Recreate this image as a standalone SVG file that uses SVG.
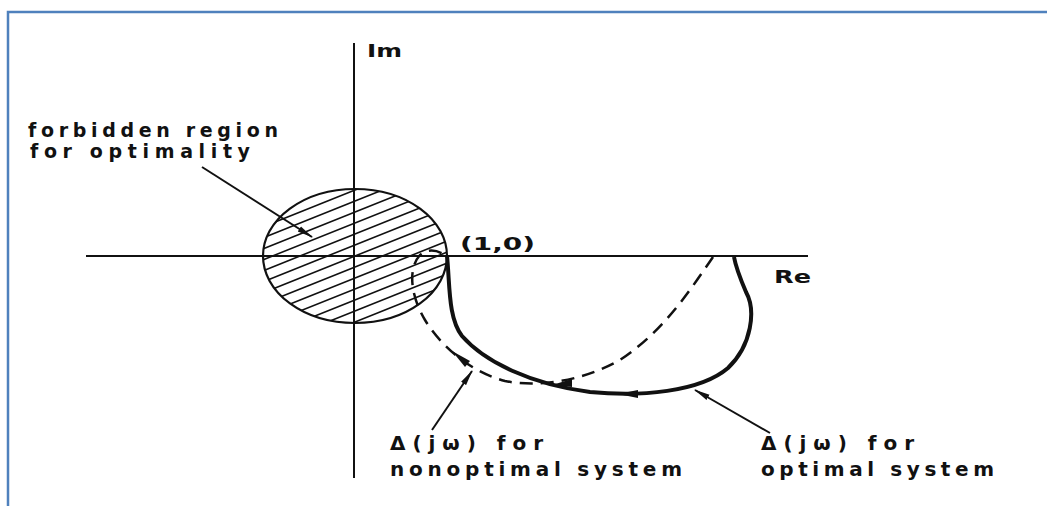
<svg xmlns="http://www.w3.org/2000/svg" width="1047" height="506" viewBox="0 0 1047 506">
  <style>
    .lbl { font-family: "DejaVu Sans", "Liberation Sans", sans-serif; font-weight: bold; fill: #111; }
    .axis { stroke: #111; stroke-width: 2; fill: none; }
    .ptr { stroke: #111; stroke-width: 2; fill: none; }
  </style>
  <defs>
    <clipPath id="circClip">
      <ellipse cx="355" cy="256" rx="92" ry="67"/>
    </clipPath>
    <marker id="ah" markerUnits="userSpaceOnUse" markerWidth="16" markerHeight="8" refX="15" refY="4" orient="auto">
      <path d="M0,1 L16,4 L0,7 z" fill="#111"/>
    </marker>
  </defs>
  <rect width="1047" height="506" fill="#fff"/>
  <g id="border" fill="none" stroke="#4f81bd" stroke-width="2.5">
    <path d="M8,506 L8,12 L1047,12"/>
  </g>
  <g id="axes">
    <line class="axis" x1="354" y1="43" x2="354" y2="478"/>
    <line class="axis" x1="86" y1="256" x2="808" y2="256"/>
    <text class="lbl" x="367" y="57" font-size="18" textLength="35" lengthAdjust="spacingAndGlyphs">Im</text>
    <text class="lbl" x="774" y="283" font-size="18" textLength="37" lengthAdjust="spacingAndGlyphs">Re</text>
    <text class="lbl" x="460" y="250" font-size="18" textLength="75" lengthAdjust="spacingAndGlyphs">(1,0)</text>
  </g>
  <g id="forbidden-region">
    <g clip-path="url(#circClip)" stroke="#111" stroke-width="1.6">
      <line x1="240" y1="236" x2="470" y2="144"/>
      <line x1="240" y1="247" x2="470" y2="155"/>
      <line x1="240" y1="258" x2="470" y2="166"/>
      <line x1="240" y1="269" x2="470" y2="177"/>
      <line x1="240" y1="280" x2="470" y2="188"/>
      <line x1="240" y1="291" x2="470" y2="199"/>
      <line x1="240" y1="302" x2="470" y2="210"/>
      <line x1="240" y1="313" x2="470" y2="221"/>
      <line x1="240" y1="324" x2="470" y2="232"/>
      <line x1="240" y1="335" x2="470" y2="243"/>
      <line x1="240" y1="346" x2="470" y2="254"/>
      <line x1="240" y1="357" x2="470" y2="265"/>
      <line x1="240" y1="368" x2="470" y2="276"/>
      <line x1="240" y1="379" x2="470" y2="287"/>
      <line x1="240" y1="390" x2="470" y2="298"/>
      <line x1="240" y1="401" x2="470" y2="309"/>
      <line x1="240" y1="412" x2="470" y2="320"/>
      <line x1="240" y1="423" x2="470" y2="331"/>
      <line x1="240" y1="434" x2="470" y2="342"/>
    </g>
    <ellipse cx="355" cy="256" rx="92" ry="67" fill="none" stroke="#111" stroke-width="2.2"/>
    <text class="lbl" x="28" y="137" font-size="19" textLength="250" lengthAdjust="spacing">forbidden region</text>
    <text class="lbl" x="30" y="158" font-size="19" textLength="220" lengthAdjust="spacing">for optimality</text>
  </g>
  <g id="optimal-curve">
    <path d="M447,256 C450,285 448,318 462,336 C485,362 530,384 590,392 C640,397 700,392 728,368 C752,345 756,310 746,292 C740,278 736,268 734,257" fill="none" stroke="#111" stroke-width="4"/>
    <path d="M618,394 L638,390 L638,398 z" fill="#111"/>
    <text class="lbl" x="761" y="450" font-size="20" textLength="153" lengthAdjust="spacing">Δ(jω) for</text>
    <text class="lbl" x="761" y="476" font-size="20" textLength="233" lengthAdjust="spacing">optimal system</text>
  </g>
  <g id="nonoptimal-curve">
    <path d="M713,257 C690,290 665,330 620,360 C585,380 540,388 505,381 C470,372 440,345 425,320 C410,295 408,268 420,255 C428,248 438,250 446,256" fill="none" stroke="#111" stroke-width="2.5" stroke-dasharray="13,8"/>
    <path d="M552,385 L572,379 L572,387 z" fill="#111"/>
    <path d="M452,351 L470,361 L465,367 z" fill="#111"/>
    <text class="lbl" x="390" y="450" font-size="20" textLength="153" lengthAdjust="spacing">Δ(jω) for</text>
    <text class="lbl" x="390" y="476" font-size="20" textLength="292" lengthAdjust="spacing">nonoptimal system</text>
  </g>
  <g id="connectors">
    <line class="ptr" x1="202" y1="167" x2="312" y2="237" marker-end="url(#ah)"/>
    <line class="ptr" x1="432" y1="430" x2="472" y2="371" marker-end="url(#ah)"/>
    <line class="ptr" x1="770" y1="433" x2="695" y2="390" marker-end="url(#ah)"/>
  </g>
</svg>
